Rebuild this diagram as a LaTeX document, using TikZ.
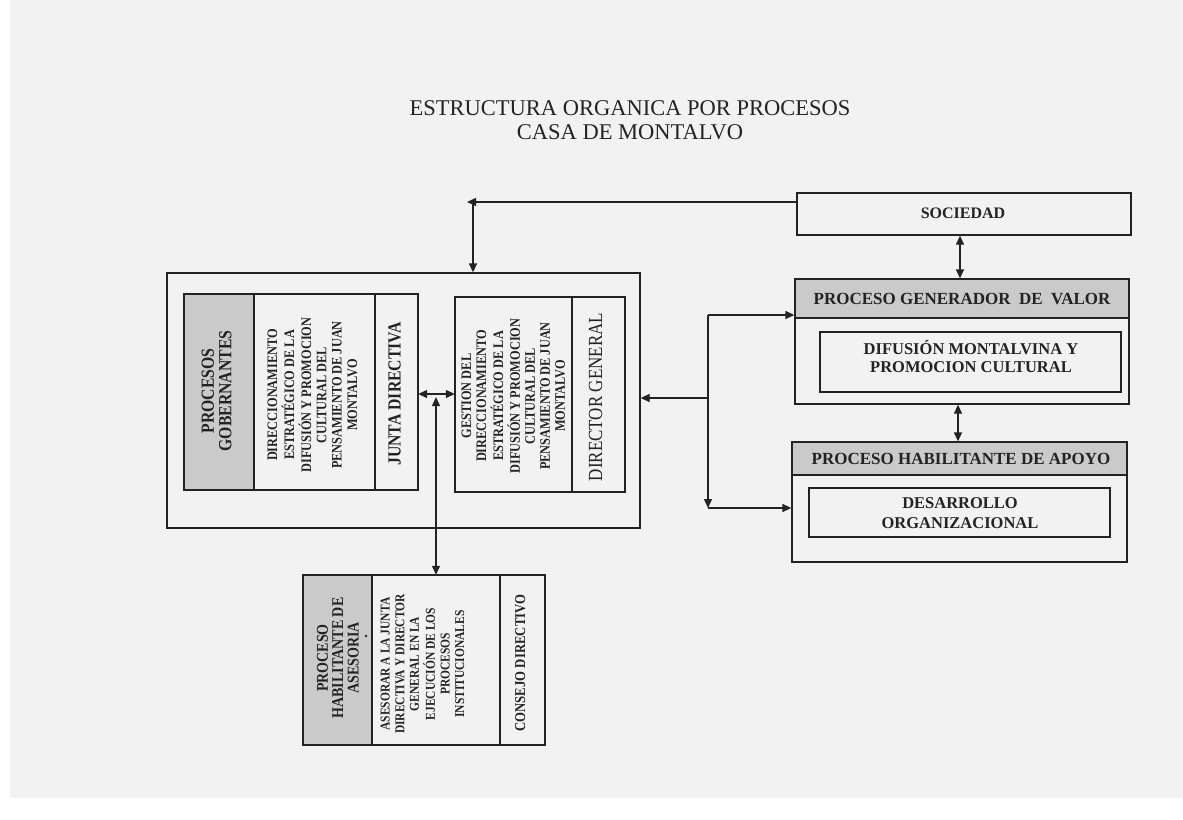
\documentclass[tikz,border=0pt]{standalone}
\usepackage{fontspec}
\usepackage{graphicx}
\setmainfont{Liberation Serif}
\usetikzlibrary{arrows.meta,fit}
\definecolor{pagebg}{RGB}{242,242,242}
\definecolor{bandgray}{RGB}{202,202,202}
\definecolor{ink}{RGB}{35,35,35}
\newcommand{\vtxt}[1]{\scalebox{0.85}[1]{\begin{tabular}{@{}c@{}}#1\end{tabular}}}
\begin{document}
\begin{tikzpicture}[x=1pt,y=-1pt,
  box/.style={draw=ink, line width=1.3pt, inner sep=0pt},
  area/.style={inner sep=0pt},
  ln/.style={draw=ink, line width=1.3pt},
  arr/.style={ln, -{Triangle[length=9pt,width=8pt]}},
  barr/.style={ln, {Triangle[length=9pt,width=8pt]}-{Triangle[length=9pt,width=8pt]}},
  vt/.style={rotate=90, text=ink, inner sep=0pt},
  ht/.style={align=center, text=ink, inner sep=0pt}]
% page
\fill[white] (0,0) rectangle (1183,819);
\fill[pagebg] (10,0) rectangle (1183,798);
\useasboundingbox (0,0) rectangle (1183,819);

% title
\node[ht, anchor=base, font=\fontsize{22.5}{24}\selectfont] (title1) at (630,115) {ESTRUCTURA ORGANICA POR PROCESOS};
\node[ht, anchor=base, font=\fontsize{22.5}{24}\selectfont] (title2) at (630,139) {CASA DE MONTALVO};

% outer box
\node[box, fit={(167,273) (640,528)}] (outer) {};

% left inner box (procesos gobernantes)
\node[box, fill=bandgray, fit={(184,294) (254,490)}] (gobcol) {};
\node[box, fit={(254,294) (375,490)}] (dircol) {};
\node[box, fit={(375,294) (418,490)}] (juntacol) {};
\node[area, fit={(184,294) (418,490)}] (left) {};
\node[vt, font=\bfseries\fontsize{18.5}{17}\selectfont] (gobtxt) at (219,391) {\vtxt{PROCESOS\\GOBERNANTES}};
\node[vt, font=\bfseries\fontsize{14.5}{15.3}\selectfont] (dirtxt) at (314,395) {\vtxt{DIRECCIONAMIENTO\\ESTRATÉGICO DE LA\\DIFUSIÓN Y PROMOCION\\CULTURAL DEL\\PENSAMIENTO DE JUAN\\MONTALVO}};
\node[vt, font=\bfseries\fontsize{18.5}{18}\selectfont] (juntatxt) at (397,394) {\vtxt{JUNTA DIRECTIVA}};

% right inner box (director general)
\node[box, fit={(455,297) (572,492)}] (gestcol) {};
\node[box, fit={(572,297) (625,492)}] (dgcol) {};
\node[area, fit={(455,297) (625,492)}] (right) {};
\node[vt, font=\bfseries\fontsize{14.5}{15}\selectfont] (gesttxt) at (515,396) {\vtxt{GESTION DEL\\DIRECCIONAMIENTO\\ESTRATÉGICO DE LA\\DIFUSIÓN Y PROMOCION\\CULTURAL DEL\\PENSAMIENTO DE JUAN\\MONTALVO}};
\node[vt, font=\fontsize{20}{20}\selectfont] (dgtxt) at (598,397) {\vtxt{DIRECTOR GENERAL}};

% bottom box (asesoria)
\node[box, fill=bandgray, fit={(303,575) (372,745)}] (asgray) {};
\node[box, fit={(372,575) (500,745)}] (ascol) {};
\node[box, fit={(500,575) (545,745)}] (conscol) {};
\node[area, fit={(303,575) (545,745)}] (bottom) {};
\node[vt, font=\bfseries\fontsize{16.5}{15}\selectfont] (astxt) at (340,658) {\vtxt{PROCESO\\HABILITANTE DE\\ASESORIA}};
\fill[ink] (366,636) circle (1.3);
\node[vt, font=\bfseries\fontsize{13.5}{14.6}\selectfont] (asesortxt) at (424,664) {\vtxt{ASESORAR A LA JUNTA\\DIRECTIVA Y DIRECTOR\\GENERAL EN LA\\EJECUCIÓN DE LOS\\PROCESOS\\INSTITUCIONALES}};
\node[vt, font=\bfseries\fontsize{15}{15}\selectfont] (constxt) at (522,663) {\vtxt{CONSEJO DIRECTIVO}};

% sociedad
\node[box, fit={(797,193) (1131,235)}] (soc) {};
\node[ht, font=\bfseries\fontsize{16}{18}\selectfont] (soctxt) at (963,213) {SOCIEDAD};

% proceso generador de valor
\node[box, fit={(795,279) (1129,404)}] (gen) {};
\node[box, fill=bandgray, fit={(795,279) (1129,318)}] (genband) {};
\node[ht, font=\bfseries\fontsize{17}{18}\selectfont] (gentxt) at (962,298.5) {PROCESO GENERADOR\ \ DE\ \ VALOR};
\node[box, fit={(820,332) (1121,392)}] (geninner) {};
\node[ht, font=\bfseries\fontsize{16.5}{18}\selectfont] (difutxt) at (971,356) {DIFUSIÓN MONTALVINA Y\\PROMOCION CULTURAL};

% proceso habilitante de apoyo
\node[box, fit={(792,442) (1127,562)}] (apo) {};
\node[box, fill=bandgray, fit={(792,442) (1127,475)}] (apoband) {};
\node[ht, font=\bfseries\fontsize{17}{18}\selectfont] (apotxt) at (961,458.5) {PROCESO HABILITANTE DE APOYO};
\node[box, fit={(809,488) (1110,537)}] (apoinner) {};
\node[ht, font=\bfseries\fontsize{16.5}{20}\selectfont] (desatxt) at (960,513) {DESARROLLO\\ORGANIZACIONAL};

% connectors
\coordinate (tl) at (467,202);
\coordinate (tv) at (473,202);
\draw[arr] (soc.west |- tl) -- (tl);
\draw[arr] (tv) -- (outer.north -| tv);

\coordinate (sg) at (960,0);
\draw[barr] (soc.south -| sg) -- (gen.north -| sg);
\coordinate (ga) at (958,0);
\draw[barr] (gen.south -| ga) -- (apo.north -| ga);

\coordinate (mid) at (436,394);
\coordinate (midup) at (436,397);
\draw[arr] (mid) -- (left.east |- mid);
\draw[arr] (mid) -- (right.west |- mid);
\draw[barr] (bottom.north -| mid) -- (midup);

\coordinate (bt) at (708,315);
\coordinate (bb) at (708,508);
\coordinate (bm) at (708,398);
\draw[arr] (bt) -- (gen.west |- bt);
\draw[ln] (bt) -- (bm);
\draw[arr] (bm) -- (bb);
\draw[arr] (bb) -- (apo.west |- bb);
\draw[arr] (bm) -- (outer.east |- bm);
\end{tikzpicture}
\end{document}
